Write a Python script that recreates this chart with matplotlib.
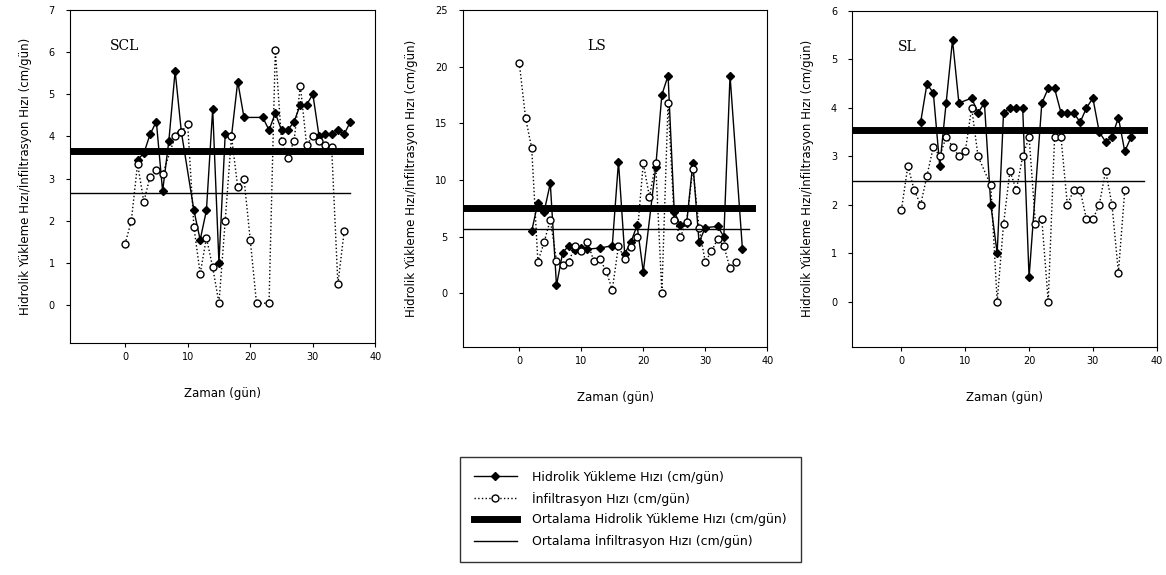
import matplotlib.pyplot as plt
import numpy as np

# SCL soil
scl_hyd_day = [2, 3, 4, 5, 6, 7, 8, 9, 11, 12, 13, 14, 15, 16, 17, 18, 19,
               22, 23, 24, 25, 26, 27, 28, 29, 30, 31, 32, 33, 34, 35, 36]
scl_hyd = [3.45, 3.6, 4.05, 4.35, 2.7, 3.9, 5.55, 4.1, 2.25, 1.55, 2.25, 4.65, 1.0,
           4.05, 4.0, 5.3, 4.45, 4.45, 4.15, 4.55, 4.15, 4.15, 4.35, 4.75, 4.75,
           5.0, 4.0, 4.05, 4.05, 4.15, 4.05, 4.35]
scl_inf_day = [0, 1, 2, 3, 4, 5, 6, 8, 9, 10, 11, 12, 13, 14, 15, 16, 17, 18, 19,
               20, 21, 23, 24, 25, 26, 27, 28, 29, 30, 31, 32, 33, 34, 35]
scl_inf = [1.45, 2.0, 3.35, 2.45, 3.05, 3.2, 3.1, 4.0, 4.1, 4.3, 1.85, 0.75, 1.6,
           0.9, 0.05, 2.0, 4.0, 2.8, 3.0, 1.55, 0.05, 0.05, 6.05, 3.9, 3.5, 3.9,
           5.2, 3.8, 4.0, 3.9, 3.8, 3.75, 0.5, 1.75]
scl_mean_hyd = 3.65
scl_mean_inf = 2.65

# LS soil
ls_hyd_day = [2, 3, 4, 5, 6, 7, 8, 9, 10, 11, 13, 15, 16, 17, 18, 19, 20, 22, 23,
              24, 25, 26, 27, 28, 29, 30, 32, 33, 34, 36]
ls_hyd = [5.5, 8.0, 7.2, 9.7, 0.7, 3.6, 4.2, 3.8, 4.0, 3.9, 4.0, 4.2, 11.6, 3.5,
          4.5, 6.0, 1.9, 11.1, 17.5, 19.2, 7.2, 6.0, 6.2, 11.5, 4.5, 5.8, 5.9,
          5.0, 19.2, 3.9]
ls_inf_day = list(range(0, 36))
ls_inf = [20.3, 15.5, 12.8, 2.8, 4.5, 6.5, 2.9, 2.5, 2.8, 4.2, 3.7, 4.5, 2.9, 3.0,
          2.0, 0.3, 4.2, 3.0, 4.1, 5.0, 11.5, 8.5, 11.5, 0.05, 16.8, 6.5, 5.0,
          6.3, 11.0, 5.8, 2.8, 3.7, 4.8, 4.2, 2.2, 2.8]
ls_mean_hyd = 7.5
ls_mean_inf = 5.7

# SL soil
sl_hyd_day = [3, 4, 5, 6, 7, 8, 9, 11, 12, 13, 14, 15, 16, 17, 18, 19, 20, 22, 23,
              24, 25, 26, 27, 28, 29, 30, 31, 32, 33, 34, 35, 36]
sl_hyd = [3.7, 4.5, 4.3, 2.8, 4.1, 5.4, 4.1, 4.2, 3.9, 4.1, 2.0, 1.0, 3.9, 4.0,
          4.0, 4.0, 0.5, 4.1, 4.4, 4.4, 3.9, 3.9, 3.9, 3.7, 4.0, 4.2, 3.5, 3.3,
          3.4, 3.8, 3.1, 3.4]
sl_inf_day = [0, 1, 2, 3, 4, 5, 6, 7, 8, 9, 10, 11, 12, 14, 15, 16, 17, 18, 19,
              20, 21, 22, 23, 24, 25, 26, 27, 28, 29, 30, 31, 32, 33, 34, 35]
sl_inf = [1.9, 2.8, 2.3, 2.0, 2.6, 3.2, 3.0, 3.4, 3.2, 3.0, 3.1, 4.0, 3.0, 2.4,
          0.0, 1.6, 2.7, 2.3, 3.0, 3.4, 1.6, 1.7, 0.0, 3.4, 3.4, 2.0, 2.3, 2.3,
          1.7, 1.7, 2.0, 2.7, 2.0, 0.6, 2.3]
sl_mean_hyd = 3.55
sl_mean_inf = 2.5

labels = ["Hidrolik Yükleme Hızı (cm/gün)", "İnfiltrasyon Hızı (cm/gün)",
          "Ortalama Hidrolik Yükleme Hızı (cm/gün)", "Ortalama İnfiltrasyon Hızı (cm/gün)"]

panels = [
    ("SCL", scl_hyd_day, scl_hyd, scl_inf_day, scl_inf, scl_mean_hyd, scl_mean_inf,
     [0.060, 0.403, 0.262, 0.580], (-8.8, 40), (-0.9, 7), range(0, 8), (0.13, 0.88), 37.5, 36),
    ("LS", ls_hyd_day, ls_hyd, ls_inf_day, ls_inf, ls_mean_hyd, ls_mean_inf,
     [0.397, 0.397, 0.261, 0.586], (-9.1, 40), (-4.7, 25), range(0, 26, 5), (0.41, 0.88), 37.5, 37),
    ("SL", sl_hyd_day, sl_hyd, sl_inf_day, sl_inf, sl_mean_hyd, sl_mean_inf,
     [0.731, 0.397, 0.261, 0.584], (-7.7, 40), (-0.93, 6), range(0, 7), (0.15, 0.88), 38, 38),
]

fig = plt.figure(figsize=(11.66, 5.75), dpi=100)
handles = None
for name, hd, hv, idy, iv, mh, mi, rect, xl, yl, yt, tpos, xe_h, xe_i in panels:
    ax = fig.add_axes(rect)
    h1, = ax.plot(hd, hv, "-", color="black", lw=1.0, marker="D", ms=4,
                  mfc="black", mec="black")
    h2, = ax.plot(idy, iv, ":", color="black", lw=1.0, marker="o", ms=5,
                  mfc="white", mec="black")
    h3, = ax.plot([xl[0], xe_h], [mh, mh], "-", color="black", lw=5)
    h4, = ax.plot([xl[0], xe_i], [mi, mi], "-", color="black", lw=1)
    handles = [h1, h2, h3, h4]
    ax.set_xlim(xl)
    ax.set_ylim(yl)
    ax.set_xticks([0, 10, 20, 30, 40])
    ax.set_yticks(list(yt))
    ax.tick_params(labelsize=7, length=3)
    ax.tick_params(axis="y", pad=8)
    ax.text(tpos[0], tpos[1], name, transform=ax.transAxes, family="serif",
            fontsize=10)
    ax.set_xlabel("Zaman (gün)", fontsize=8.5, labelpad=18)
    ax.set_ylabel("Hidrolik Yükleme Hızı/İnfiltrasyon Hızı (cm/gün)", fontsize=8.5,
                  labelpad=12)

fig.legend(handles, labels, loc="upper left", bbox_to_anchor=(0.389, 0.216),
           fontsize=9, frameon=True, fancybox=False, edgecolor="black",
           handlelength=3.5, borderpad=1.1, labelspacing=0.62, handletextpad=1.2)

fig.savefig("out.png", dpi=100)
